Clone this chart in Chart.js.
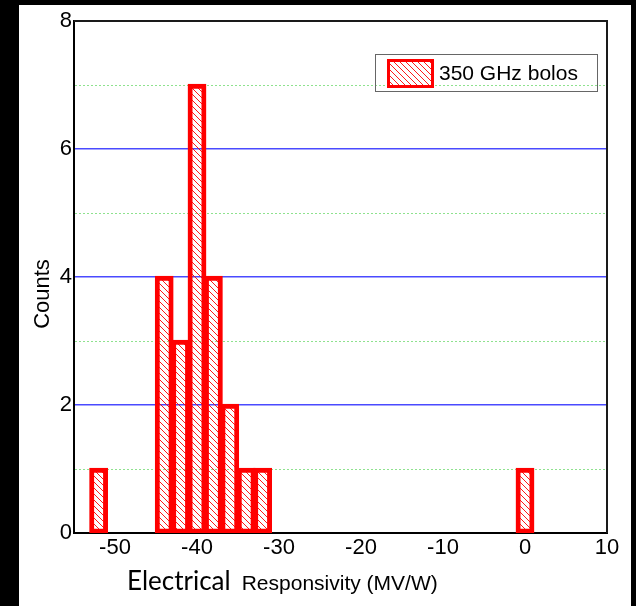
<!DOCTYPE html>
<html>
<head>
<meta charset="utf-8">
<script src="https://cdn.jsdelivr.net/npm/chart.js@4"></script>
<style>
  html, body { margin: 0; padding: 0; background: #000; width: 636px; height: 606px; overflow: hidden; }
  #wrap { position: absolute; left: 19px; top: 5px; width: 612px; height: 601px; background: #fff; }
  canvas { display: block; }
</style>
</head>
<body>
<div id="wrap"><canvas id="c" width="612" height="601"></canvas></div>
<script>
// Histogram of electrical responsivity, 2 MV/W bins (bin centres and counts)
const binCenters = [-52, -44, -42, -40, -38, -36, -34, -32, 0];
const binCounts  = [1, 4, 3, 7, 4, 2, 1, 1, 1];
const seriesLabel = '350 GHz bolos';

// Axis ticks
const xTickValues = [-50, -40, -30, -20, -10, 0, 10];
const yTickValues = [0, 1, 2, 3, 4, 5, 6, 7, 8];
const yLabelledTicks = [0, 2, 4, 6, 8];
const yMajorGrid = [2, 4, 6];
const yMinorGrid = [1, 3, 5, 7];

const X_MIN = -55, X_MAX = 10;
const SANS = '"Liberation Sans", Arial, sans-serif';

// Grid colours / widths / dashes per y tick
const yGridColors = yTickValues.map(v =>
  yMajorGrid.includes(v) ? '#4a4aff' : (yMinorGrid.includes(v) ? '#8ee28e' : 'rgba(0,0,0,0)'));
const yGridWidths = yTickValues.map(v => yMajorGrid.includes(v) ? 1.5 : 1);
const yGridDash = v => yMinorGrid.includes(v) ? [2, 2] : [];

// Diagonal "\" hatch used for the bars and the legend swatch
function makeHatch() {
  const s = 6;
  const tile = document.createElement('canvas');
  tile.width = s; tile.height = s;
  const t = tile.getContext('2d');
  t.strokeStyle = 'rgba(255,0,0,0.9)';
  t.lineWidth = 1;
  t.beginPath();
  for (const k of [-s, 0, s]) {
    t.moveTo(k, 0);
    t.lineTo(k + s, s);
  }
  t.stroke();
  return t.createPattern(tile, 'repeat');
}
const hatch = makeHatch();

const points = binCenters.map((x, i) => ({ x: x, y: binCounts[i] }));

// Plot frame, axis titles and the boxed legend
const decorations = {
  id: 'decorations',
  afterDraw(chart) {
    const { ctx, chartArea: a } = chart;
    ctx.save();

    // top and right edges of the plot frame
    ctx.strokeStyle = '#1a1a1a';
    ctx.lineWidth = 2;
    ctx.beginPath();
    ctx.moveTo(a.left, a.top);
    ctx.lineTo(a.right, a.top);
    ctx.lineTo(a.right, a.bottom);
    ctx.stroke();

    // x axis title in two typefaces
    ctx.fillStyle = '#000';
    ctx.textBaseline = 'alphabetic';
    ctx.textAlign = 'left';
    ctx.font = '26px Lato, "Open Sans", sans-serif';
    const part1 = 'Electrical';
    ctx.fillText(part1, 108, 585);
    const w1 = ctx.measureText(part1).width;
    ctx.font = '21px ' + SANS;
    ctx.fillText('Responsivity (MV/W)', 108 + w1 + 11, 585);

    // y axis title
    ctx.save();
    ctx.translate(24, 289);
    ctx.rotate(-Math.PI / 2);
    ctx.textAlign = 'center';
    ctx.textBaseline = 'middle';
    ctx.font = '22px ' + SANS;
    ctx.fillText('Counts', 0, 0);
    ctx.restore();

    // legend box
    ctx.strokeStyle = '#666';
    ctx.lineWidth = 1;
    ctx.strokeRect(356.5, 49.5, 222, 37);
    ctx.fillStyle = hatch;
    ctx.fillRect(369, 55, 45, 27);
    ctx.strokeStyle = '#ff0000';
    ctx.lineWidth = 3;
    ctx.strokeRect(369.5, 55.5, 44, 26);
    ctx.fillStyle = '#000';
    ctx.font = '21px ' + SANS;
    ctx.textAlign = 'left';
    ctx.textBaseline = 'middle';
    ctx.fillText(chart.data.datasets[0].label, 420, 69);

    ctx.restore();
  }
};

new Chart(document.getElementById('c'), {
  type: 'bar',
  data: {
    datasets: [{
      label: seriesLabel,
      data: points,
      backgroundColor: hatch,
      borderColor: '#ff0000',
      borderWidth: 2.5,
      borderSkipped: false,
      inflateAmount: 1.2,
      categoryPercentage: 1,
      barPercentage: 1
    }]
  },
  options: {
    responsive: false,
    devicePixelRatio: 1,
    animation: false,
    layout: { padding: { top: 16, right: 24, left: 0, bottom: 0 } },
    plugins: { legend: { display: false }, tooltip: { enabled: false } },
    scales: {
      x: {
        type: 'linear',
        offset: false,
        min: X_MIN,
        max: X_MAX,
        afterBuildTicks: s => { s.ticks = xTickValues.map(v => ({ value: v })); },
        afterFit: s => { s.height = 73; },
        grid: { display: false, drawTicks: false, offset: false },
        border: { display: true, color: '#000', width: 2 },
        ticks: {
          padding: 2,
          color: '#000',
          font: { family: SANS, size: 22 },
          maxRotation: 0,
          callback: v => String(v)
        }
      },
      y: {
        min: 0,
        max: 8,
        afterBuildTicks: s => { s.ticks = yTickValues.map(v => ({ value: v })); },
        afterFit: s => { s.width = 55; },
        grid: {
          drawTicks: false,
          lineWidth: yGridWidths,
          color: yGridColors
        },
        border: {
          display: true,
          color: '#000',
          width: 2,
          dash: c => c.tick ? yGridDash(c.tick.value) : []
        },
        ticks: {
          padding: 2,
          color: '#000',
          font: { family: SANS, size: 22 },
          callback: v => yLabelledTicks.includes(v) ? String(v) : ''
        }
      }
    }
  },
  plugins: [decorations]
});
</script>
</body>
</html>
